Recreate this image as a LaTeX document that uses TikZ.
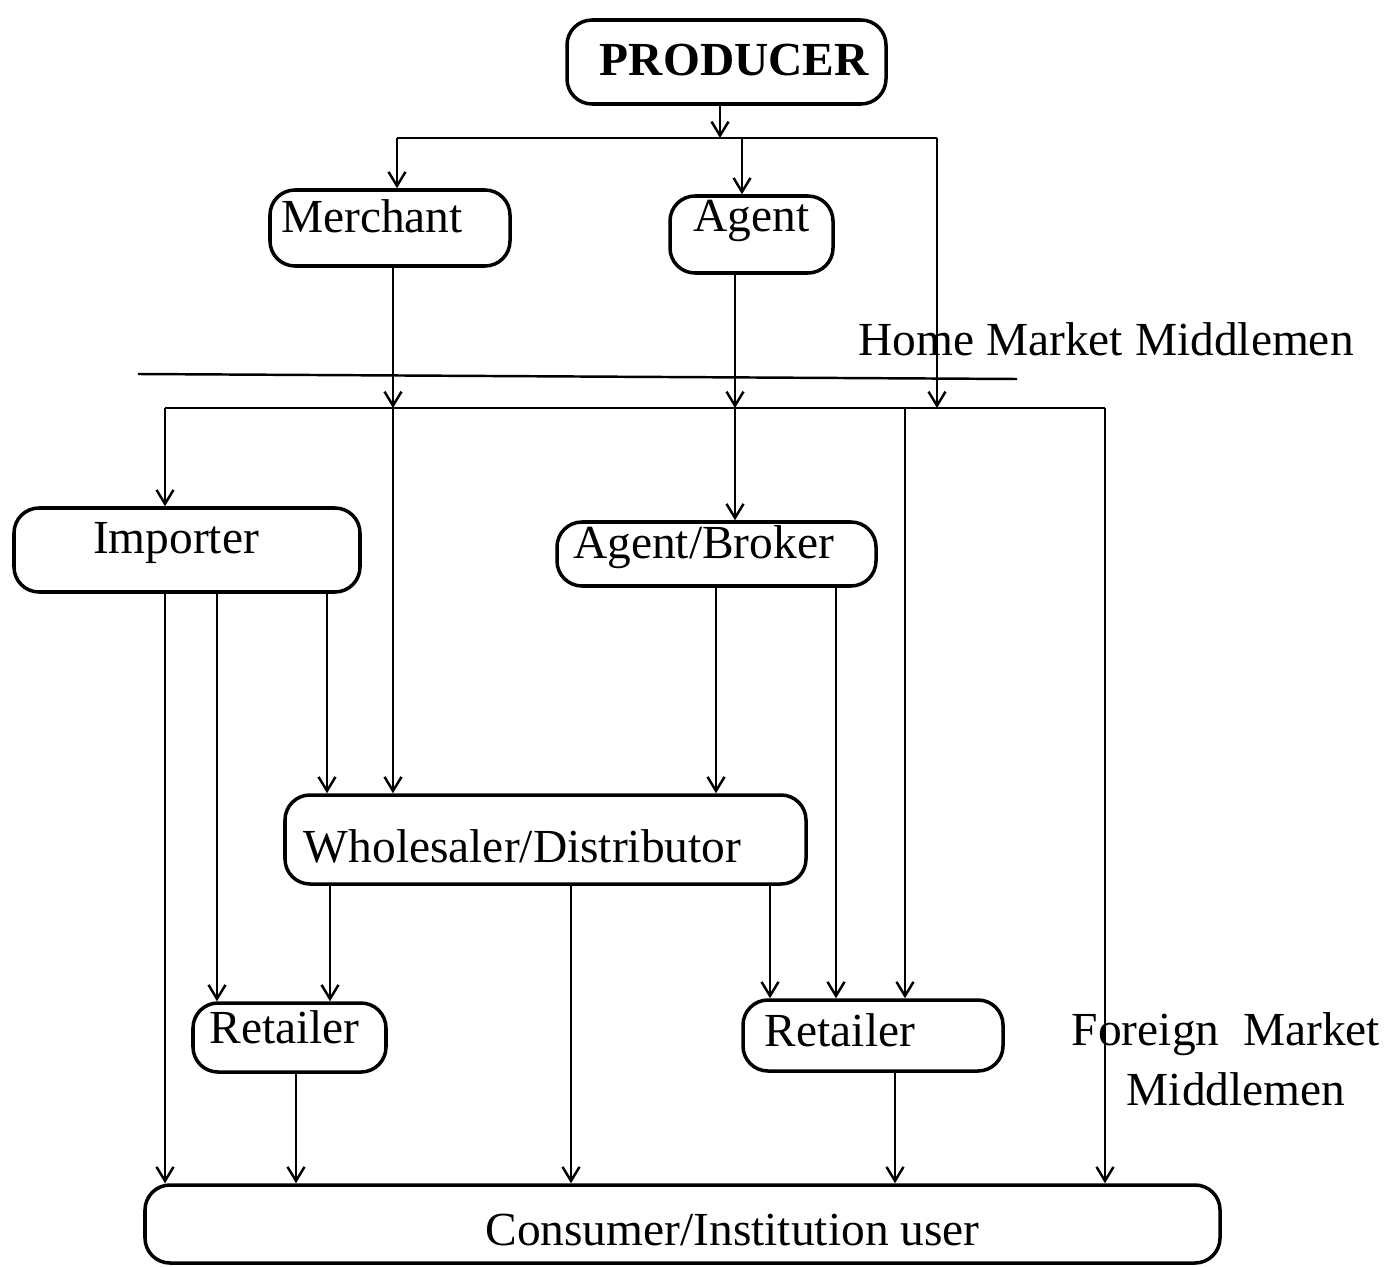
\documentclass[tikz,border=0pt]{standalone}
\usepackage{fontspec}
\setmainfont{Liberation Serif}
\usetikzlibrary{arrows.meta}
\begin{document}
\begin{tikzpicture}[x=0.02cm,y=-0.02cm,
  box/.style={draw,line width=2pt,rounded corners=0.5cm,inner sep=0pt},
  txt/.style={font=\fontsize{27}{32}\selectfont,inner sep=0pt},
  arr/.style={line width=1.4pt,-{Straight Barb[length=0.28cm,width=0.34cm,line width=1.4pt]}},
  ln/.style={line width=1.4pt},
  lbl/.style={font=\fontsize{27}{34}\selectfont,inner sep=0pt}]
\useasboundingbox (0,0) rectangle (1389,1267);

% boxes, each with its caption set slightly off centre
\node[box,minimum width=319*0.02cm,minimum height=84*0.02cm,
  label={[txt,shift={(8,-2)}]center:\textbf{PRODUCER}}] (prod) at (726.5,62) {};
\node[box,minimum width=240*0.02cm,minimum height=76*0.02cm,
  label={[txt,shift={(-18,-12)}]center:Merchant}] (merchant) at (390,228) {};
\node[box,minimum width=163*0.02cm,minimum height=77*0.02cm,
  label={[txt,shift={(0,-14)}]center:Agent}] (agent) at (751.5,234.5) {};
\node[box,minimum width=346*0.02cm,minimum height=84*0.02cm,
  label={[txt,shift={(-11,-7)}]center:Importer}] (importer) at (187,550) {};
\node[box,minimum width=319*0.02cm,minimum height=64*0.02cm,
  label={[txt,shift={(-13,-7)}]center:Agent/Broker}] (broker) at (716.5,554) {};
\node[box,minimum width=521*0.02cm,minimum height=89*0.02cm,
  label={[txt,shift={(-23,7)}]center:Wholesaler/Distributor}] (wholesaler) at (545.5,839.5) {};
\node[box,minimum width=193*0.02cm,minimum height=69*0.02cm,
  label={[txt,shift={(-5,-10)}]center:Retailer}] (retA) at (289.5,1037.5) {};
\node[box,minimum width=260*0.02cm,minimum height=71*0.02cm,
  label={[txt,shift={(-33,-5)}]center:Retailer}] (retB) at (873,1035.5) {};
\node[box,minimum width=1075*0.02cm,minimum height=78*0.02cm,
  label={[txt,shift={(50,6)}]center:Consumer/Institution user}] (consumer) at (682.5,1224) {};

% labels
\node[lbl,anchor=base west] (home) at (858,355) {Home Market Middlemen};
\node[lbl,anchor=north,align=center] (foreign) at (1226,1012) {Foreign\ \ Market\\\hspace*{0.4cm}Middlemen};

% bus levels and columns
\coordinate (tb) at (0,138);
\coordinate (fb) at (0,408);
\foreach \c in {165,217,296,327,330,393,397,571,716,720,735,742,770,836,895,905,937,1105}
  \coordinate (c\c) at (\c,0);

% separator between home and foreign markets
\coordinate (sepL) at (138,374);
\coordinate (sepR) at (1017,379);
\draw[ln] (sepL) -- (sepR);

% producer to home market middlemen
\draw[arr] (prod.south -| c720) -- (c720 |- tb);
\draw[ln] (c397 |- tb) -- (c937 |- tb);
\draw[arr] (c397 |- tb) -- (merchant.north -| c397);
\draw[arr] (c742 |- tb) -- (agent.north -| c742);
\draw[arr] (c937 |- tb) -- (c937 |- fb);

% home market middlemen to foreign market
\draw[arr] (merchant.south -| c393) -- (c393 |- fb);
\draw[arr] (c393 |- fb) -- (wholesaler.north -| c393);
\draw[arr] (agent.south -| c735) -- (c735 |- fb);
\draw[arr] (c735 |- fb) -- (broker.north -| c735);

% foreign bus
\draw[ln] (c165 |- fb) -- (c1105 |- fb);
\draw[arr] (c165 |- fb) -- (importer.north -| c165);
\draw[arr] (c905 |- fb) -- (retB.north -| c905);
\draw[arr] (c1105 |- fb) -- (consumer.north -| c1105);

% importer
\draw[arr] (importer.south -| c165) -- (consumer.north -| c165);
\draw[arr] (importer.south -| c217) -- (retA.north -| c217);
\draw[arr] (importer.south -| c327) -- (wholesaler.north -| c327);

% agent/broker
\draw[arr] (broker.south -| c716) -- (wholesaler.north -| c716);
\draw[arr] (broker.south -| c836) -- (retB.north -| c836);

% wholesaler
\draw[arr] (wholesaler.south -| c330) -- (retA.north -| c330);
\draw[arr] (wholesaler.south -| c571) -- (consumer.north -| c571);
\draw[arr] (wholesaler.south -| c770) -- (retB.north -| c770);

% retailers
\draw[arr] (retA.south -| c296) -- (consumer.north -| c296);
\draw[arr] (retB.south -| c895) -- (consumer.north -| c895);
\end{tikzpicture}
\end{document}
